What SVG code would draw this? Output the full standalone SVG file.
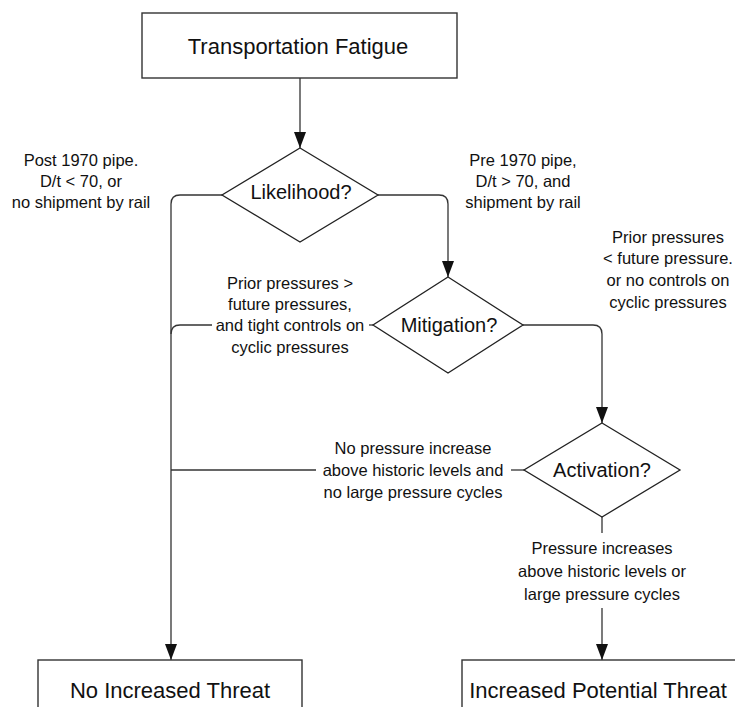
<svg xmlns="http://www.w3.org/2000/svg" width="735" height="707" viewBox="0 0 735 707">
<defs>
<marker id="ah" markerWidth="12" markerHeight="16" refX="6" refY="16" orient="auto-start-reverse" markerUnits="userSpaceOnUse" viewBox="0 0 12 16">
<path d="M0,0 L12,0 L6,16 Z" fill="#111" transform="rotate(0)"/>
</marker>
<style>
.box{fill:#fff;stroke:#333;stroke-width:1.4}
.dia{fill:#fff;stroke:#222;stroke-width:1.3}
.ln{fill:none;stroke:#333;stroke-width:1.3}
.big{font-family:"Liberation Sans",Arial,sans-serif;font-size:22px;fill:#111;text-anchor:middle}
.mid{font-family:"Liberation Sans",Arial,sans-serif;font-size:20px;fill:#111;text-anchor:middle}
.lab{font-family:"Liberation Sans",Arial,sans-serif;font-size:16.5px;fill:#111;text-anchor:middle}
</style>
</defs>
<rect width="735" height="707" fill="#fff"/>
<g id="connectors">
<line class="ln" x1="300" y1="78" x2="300" y2="148"/>
<path d="M300,132 L294,132 L300,148 L306,132 Z" fill="#111"/>
<path class="ln" d="M222,195 H180 Q171,195 171,204 V660"/>
<path d="M171,644 L165,644 L171,660 L177,644 Z" fill="#111"/>
<path class="ln" d="M378,195 H439 Q448,195 448,204 V277"/>
<path d="M448,261 L442,261 L448,277 L454,261 Z" fill="#111"/>
<path class="ln" d="M212,325 H180 Q171,325 171,334"/>
<line class="ln" x1="369" y1="325" x2="373" y2="325"/>
<path class="ln" d="M523,325 H593 Q602,325 602,334 V423"/>
<path d="M602,407 L596,407 L602,423 L608,407 Z" fill="#111"/>
<line class="ln" x1="171" y1="470" x2="316" y2="470"/>
<line class="ln" x1="511" y1="470" x2="524" y2="470"/>
<line class="ln" x1="602" y1="517" x2="602" y2="533"/>
<path class="ln" d="M602,608 V660"/>
<path d="M602,644 L596,644 L602,660 L608,644 Z" fill="#111"/>
</g>
<g id="n-top">
<rect class="box" x="142" y="13" width="315" height="65"/>
<text class="big" x="298" y="54">Transportation Fatigue</text>
</g>
<g id="n-likelihood">
<polygon class="dia" points="300,148 378,195 300,242 222,195"/>
<text class="mid" x="301" y="199">Likelihood?</text>
</g>
<g id="n-mitigation">
<polygon class="dia" points="448,277 523,325 448,373 373,325"/>
<text class="mid" x="449" y="332">Mitigation?</text>
</g>
<g id="n-activation">
<polygon class="dia" points="602,423 680,470 602,517 524,470"/>
<text class="mid" x="602" y="477">Activation?</text>
</g>
<g id="n-noinc">
<rect class="box" x="38" y="660" width="264" height="60"/>
<text class="big" x="170" y="698">No Increased Threat</text>
</g>
<g id="n-inc">
<rect class="box" x="462" y="660" width="290" height="60"/>
<text class="big" x="598" y="698">Increased Potential Threat</text>
</g>
<g id="labels">
<text class="lab" x="81" y="166">Post 1970 pipe.</text>
<text class="lab" x="81" y="187">D/t &lt; 70, or</text>
<text class="lab" x="81" y="208">no shipment by rail</text>
<text class="lab" x="523" y="166">Pre 1970 pipe,</text>
<text class="lab" x="523" y="187">D/t &gt; 70, and</text>
<text class="lab" x="523" y="208">shipment by rail</text>
<text class="lab" x="668" y="243">Prior pressures</text>
<text class="lab" x="668" y="264">&lt; future pressure.</text>
<text class="lab" x="668" y="286">or no controls on</text>
<text class="lab" x="668" y="308">cyclic pressures</text>
<text class="lab" x="290" y="289">Prior pressures &gt;</text>
<text class="lab" x="290" y="310">future pressures,</text>
<text class="lab" x="290" y="331">and tight controls on</text>
<text class="lab" x="290" y="353">cyclic pressures</text>
<text class="lab" x="413" y="454">No pressure increase</text>
<text class="lab" x="413" y="476">above historic levels and</text>
<text class="lab" x="413" y="498">no large pressure cycles</text>
<text class="lab" x="602" y="554">Pressure increases</text>
<text class="lab" x="602" y="577">above historic levels or</text>
<text class="lab" x="602" y="600">large pressure cycles</text>
</g>
</svg>
